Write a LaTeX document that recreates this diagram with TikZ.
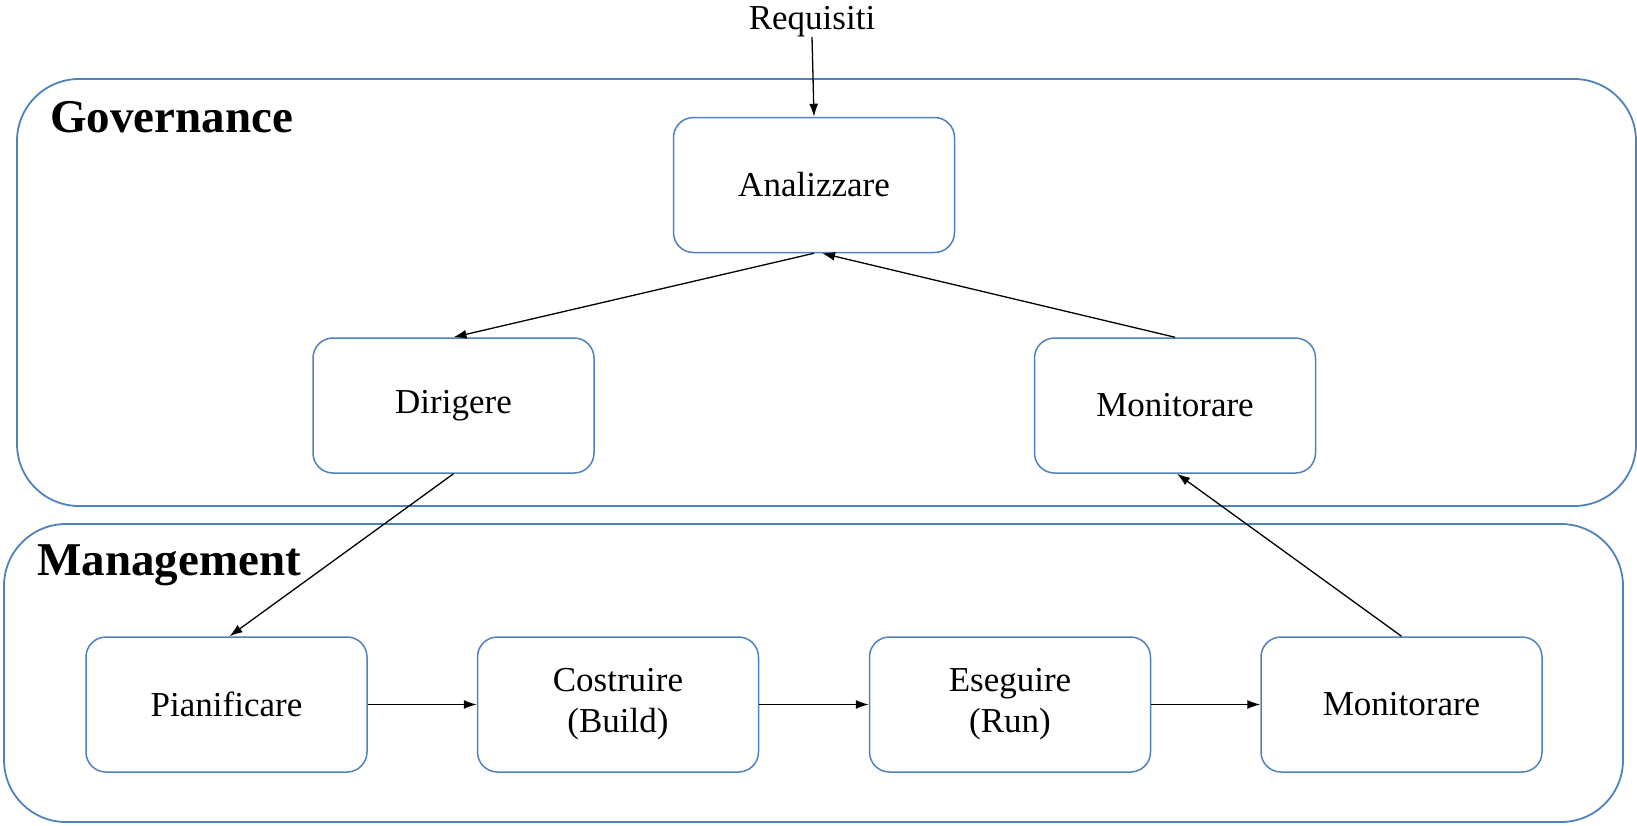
\documentclass[tikz,border=0pt]{standalone}
\usepackage{fontspec}
\setmainfont{Liberation Serif}
\usetikzlibrary{arrows.meta}
\definecolor{boxblue}{RGB}{79,129,189}
\begin{document}
\begin{tikzpicture}[x=1pt,y=-1pt,
  region/.style={draw=boxblue, line width=1.8pt, rounded corners=62pt, inner sep=0pt},
  stepbox/.style={draw=boxblue, line width=1.5pt, rounded corners=20pt, minimum width=281pt, minimum height=135pt, inner sep=0pt, align=center, font=\fontsize{35}{41}\selectfont},
  title/.style={font=\fontsize{47}{50}\selectfont\bfseries, anchor=base west, inner sep=0pt},
  arr/.style={-{Latex[length=13pt,width=9pt]}, line width=1.3pt, black}
]
\useasboundingbox (0,0) rectangle (1637,825);
\node[region, minimum width=1619pt, minimum height=427pt] (gov) at (826.5,292.5) {};
\node[region, minimum width=1619pt, minimum height=298pt] (man) at (813.5,673) {};
\node[title] (govlabel) at (50,132) {Governance};
\node[title] (manlabel) at (37,575) {Management};
\node[font=\fontsize{35}{41}\selectfont, anchor=base, inner sep=0pt] (req) at (812,29) {Requisiti};
\coordinate (reqend) at (812,37);
\node[stepbox] (ana) at (814,185) {Analizzare};
\node[stepbox] (dir) at (453.5,405.5) {Dirigere};
\node[stepbox] (mont) at (1175,405.5) {Monitorare};
\node[stepbox] (pia) at (226.5,704.5) {Pianificare};
\node[stepbox] (cos) at (618,704.5) {Costruire\\(Build)};
\node[stepbox] (ese) at (1010,704.5) {Eseguire\\(Run)};
\node[stepbox] (monb) at (1401.5,704.5) {Monitorare};
\draw[arr] (reqend) -- (ana.north);
\draw[arr] (ana.south) -- (dir.north);
\draw[arr] (mont.north) -- ([xshift=8pt]ana.south);
\draw[arr] (dir.south) -- ([xshift=3pt]pia.north);
\draw[arr] (monb.north) -- ([xshift=2pt]mont.south);
\draw[arr] (pia.east) -- (cos.west);
\draw[arr] (cos.east) -- (ese.west);
\draw[arr] (ese.east) -- (monb.west);
\end{tikzpicture}
\end{document}
